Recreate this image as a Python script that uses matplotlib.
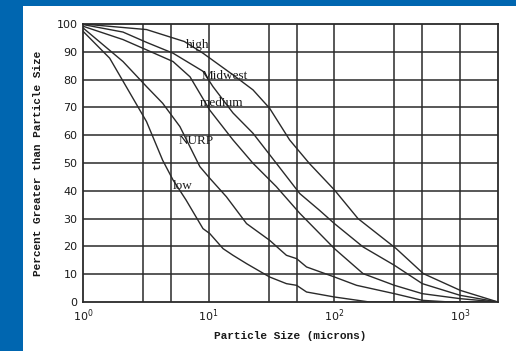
import numpy as np
from matplotlib import pyplot as plt
from matplotlib.patches import Rectangle

# particle size distributions (microns, percent greater than size)
high_x = [1, 3.2, 6.4, 9, 15.6, 22.5, 30.5, 44, 63, 100, 154, 310, 510, 1000, 2000]
high_y = [100, 98, 93.7, 89.5, 81.7, 76.3, 69.7, 58.3, 49.9, 40.3, 30, 19.2, 10.2, 4.2, 0]

midwest_x = [1, 2.08, 3.2, 5.2, 9, 10.8, 15.6, 22.5, 34.5, 53, 76, 100, 169, 300, 500, 1000, 2000]
midwest_y = [99.8, 97.1, 93.4, 89.5, 83, 77.5, 68, 60.7, 49.9, 39, 33, 28.2, 19.8, 13.2, 6.6, 2.4, 0]

medium_x = [1, 2.08, 3.2, 5.2, 7.1, 10.2, 15.6, 22.5, 34.5, 53, 100, 169, 300, 500, 1000, 2000]
medium_y = [99.2, 94.4, 90.7, 86.5, 81, 69, 58.3, 49.9, 41.5, 31.9, 19.2, 10.2, 6, 3, 1.2, 0]

nurp_x = [1, 2.08, 3.2, 4.3, 5.9, 8.5, 10.2, 13.8, 20, 30.5, 41.5, 50, 60, 100, 150, 300, 500, 830, 2000]
nurp_y = [98.6, 86.5, 77.5, 71.5, 63.1, 48.7, 44.5, 37.9, 28.2, 22.2, 16.8, 15.6, 12.6, 9, 6, 3, 0.6, 0, 0]

low_x = [1, 1.63, 3.2, 4.3, 5.2, 6.6, 9, 10.2, 13, 15.6, 20, 30.5, 41.5, 50, 60, 100, 190, 2000]
low_y = [97.4, 87.7, 64.9, 51, 43.9, 36.7, 26.4, 24.6, 19.2, 16.8, 13.8, 9, 6.6, 6, 3.6, 1.8, 0, 0]

labels = ["high", "Midwest", "medium", "NURP", "low"]
label_x = [8.2, 13.4, 12.6, 8.0, 6.2]
label_y = [92.5, 81.4, 71.5, 58.0, 41.8]

grid_x = [3, 5, 10, 30, 50, 100, 300, 500, 1000]
grid_y = np.arange(10, 100, 10)

fig = plt.figure(figsize=(5.16, 3.51), dpi=100)
fig.patch.set_facecolor("#0066b0")
panel = Rectangle((23 / 516, 0), 1, 1 - 6 / 351, transform=fig.transFigure,
                  facecolor="white", edgecolor="none", zorder=-10)
fig.add_artist(panel)

ax = fig.add_axes([83 / 516, 1 - 302 / 351, (498 - 83) / 516, (302 - 24) / 351])
ax.set_zorder(5)
ax.set_xscale("log")
ax.set_xlim(1, 2000)
ax.set_ylim(0, 100)

for gx in grid_x:
    ax.axvline(gx, color="#2a2a2a", lw=1.1, zorder=1)
for gy in grid_y:
    ax.axhline(gy, color="#2a2a2a", lw=1.1, zorder=1)

line_kw = dict(color="#2a2a2a", lw=1.0, zorder=2)
for xs, ys in [(high_x, high_y), (midwest_x, midwest_y), (medium_x, medium_y),
               (nurp_x, nurp_y), (low_x, low_y)]:
    ax.plot(xs, ys, **line_kw)

for txt, lx, ly in zip(labels, label_x, label_y):
    ax.text(lx, ly, txt, ha="center", va="center", fontsize=9.5,
            family="Liberation Serif", color="#1a1a1a", zorder=3)

for sp in ax.spines.values():
    sp.set_color("#2a2a2a")
    sp.set_linewidth(1.3)

ax.set_yticks(np.arange(0, 101, 10))
ax.set_xticks([1, 10, 100, 1000])
ax.xaxis.set_minor_locator(plt.NullLocator())
ax.tick_params(length=0, labelsize=8, colors="#1a1a1a", pad=4)

ax.set_xlabel("Particle Size (microns)", family="Liberation Mono", weight="bold",
              fontsize=8, color="#1a1a1a", labelpad=5)
ax.set_ylabel("Percent Greater than Particle Size", family="Liberation Mono",
              weight="bold", fontsize=8, color="#1a1a1a", labelpad=10)

fig.savefig("out.png", dpi=100, facecolor=fig.get_facecolor())
